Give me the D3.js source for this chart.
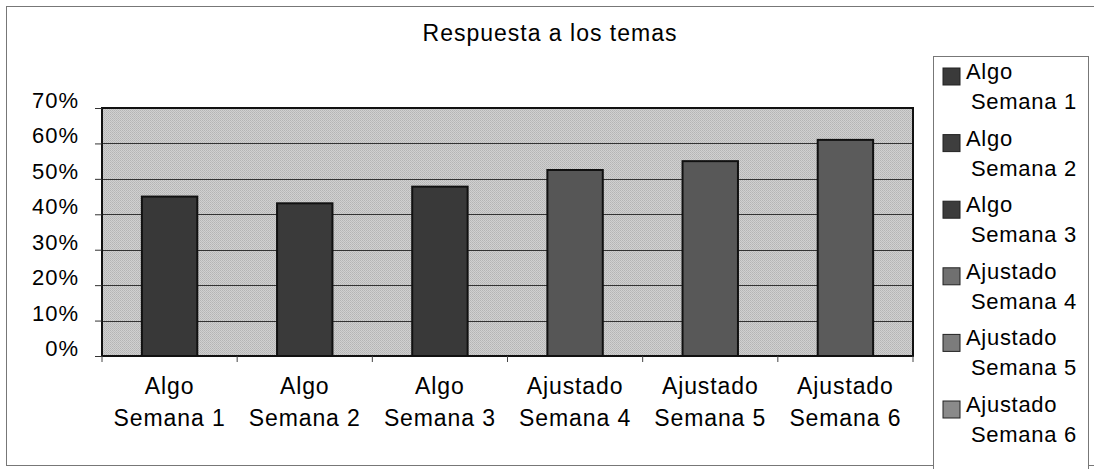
<!DOCTYPE html>
<html>
<head>
<meta charset="utf-8">
<script src="https://cdn.jsdelivr.net/npm/d3@7"></script>
<style>
  body { margin: 0; background: #fff; }
  text { font-family: "Liberation Sans", Arial, sans-serif; fill: #000; }
</style>
</head>
<body>
<div id="chart"></div>
<script>
// datos
const categories = ['Algo Semana 1', 'Algo Semana 2', 'Algo Semana 3',
                    'Ajustado Semana 4', 'Ajustado Semana 5', 'Ajustado Semana 6'];
const values = [45.0, 43.1, 47.8, 52.5, 55.0, 61.0];
const yTicks = [0, 10, 20, 30, 40, 50, 60, 70];
const title = 'Respuesta a los temas';

const W = 1094, H = 469;
const plot = { left: 102, right: 913, top: 108, bottom: 356 };

const svg = d3.select('#chart').append('svg')
    .attr('width', W)
    .attr('height', H);

// trama punteada del fondo
const defs = svg.append('defs');
const pat = defs.append('pattern')
    .attr('id', 'dots')
    .attr('width', 2).attr('height', 2)
    .attr('patternUnits', 'userSpaceOnUse');
pat.append('rect').attr('width', 2).attr('height', 2).attr('fill', '#d0d0d0');
pat.append('rect').attr('width', 1).attr('height', 1).attr('fill', '#b4b4b4');
pat.append('rect').attr('x', 1).attr('y', 1).attr('width', 1).attr('height', 1).attr('fill', '#bcbcbc');

// borde exterior
svg.append('rect')
    .attr('x', 6.5).attr('y', 6.5)
    .attr('width', 1200).attr('height', 459)
    .attr('fill', 'none')
    .attr('stroke', '#777')
    .attr('stroke-width', 1);

const x = d3.scaleBand()
    .domain(categories)
    .range([plot.left, plot.right])
    .paddingInner(0.59)
    .paddingOuter(0.295);

const y = d3.scaleLinear()
    .domain([0, 70])
    .range([plot.bottom, plot.top]);

const barColor = d3.scaleOrdinal()
    .domain(categories)
    .range(['#383838', '#3a3a3a', '#393939', '#565656', '#585858', '#5b5b5b']);
const swatchColor = d3.scaleOrdinal()
    .domain(categories)
    .range(['#3a3a3a', '#3e3e3e', '#3c3c3c', '#707070', '#7c7c7c', '#8a8a8a']);

// fondo del área de trazado
svg.append('rect')
    .attr('x', plot.left).attr('y', plot.top)
    .attr('width', plot.right - plot.left)
    .attr('height', plot.bottom - plot.top)
    .attr('fill', 'url(#dots)');

// líneas de división
svg.append('g')
    .selectAll('line')
    .data(yTicks.slice(1, -1))
    .join('line')
    .attr('x1', plot.left).attr('x2', plot.right)
    .attr('y1', d => Math.round(y(d)) + 0.5)
    .attr('y2', d => Math.round(y(d)) + 0.5)
    .attr('stroke', '#333')
    .attr('stroke-width', 1);

// barras
svg.append('g')
    .selectAll('rect')
    .data(values)
    .join('rect')
    .attr('x', (d, i) => x(categories[i]))
    .attr('y', d => y(d))
    .attr('width', x.bandwidth())
    .attr('height', d => y(0) - y(d))
    .attr('fill', (d, i) => barColor(categories[i]))
    .attr('stroke', '#111')
    .attr('stroke-width', 2);

// borde del área de trazado
svg.append('rect')
    .attr('x', plot.left).attr('y', plot.top)
    .attr('width', plot.right - plot.left)
    .attr('height', plot.bottom - plot.top)
    .attr('fill', 'none')
    .attr('stroke', '#111')
    .attr('stroke-width', 2);

// eje Y
const yAxis = svg.append('g')
    .attr('transform', `translate(${plot.left},0)`)
    .call(d3.axisLeft(y)
        .tickValues(yTicks)
        .tickSize(7)
        .tickPadding(16)
        .tickFormat(d => d + '%'));
yAxis.select('.domain').remove();
yAxis.selectAll('line').attr('stroke', '#333');
yAxis.selectAll('text')
    .attr('dy', '-0.02em')
    .style('font-size', '22px')
    .style('letter-spacing', '1px')
    .style('font-family', '"Liberation Sans", Arial, sans-serif')
    .attr('fill', '#000');

// eje X: marcas en los límites de las categorías
const bounds = categories.map((c, i) => x(c) - x.step() * x.paddingInner() / 2)
    .concat([plot.right]);
svg.append('g')
    .selectAll('line')
    .data(bounds)
    .join('line')
    .attr('x1', d => d).attr('x2', d => d)
    .attr('y1', plot.bottom).attr('y2', plot.bottom + 6)
    .attr('stroke', '#444');

// etiquetas de categorías en dos líneas
const xLabels = svg.append('g')
    .selectAll('text')
    .data(categories)
    .join('text')
    .attr('text-anchor', 'middle')
    .style('font-size', '23px')
    .style('letter-spacing', '0.9px');
xLabels.each(function(d) {
    const parts = d.split(' ');
    const cx = x(d) + x.bandwidth() / 2;
    const t = d3.select(this);
    t.append('tspan').attr('x', cx).attr('y', 394).text(parts[0]);
    t.append('tspan').attr('x', cx).attr('y', 426).text(parts.slice(1).join(' '));
});

// título
svg.append('text')
    .attr('x', 550)
    .attr('y', 41)
    .attr('text-anchor', 'middle')
    .style('font-size', '23px')
    .style('letter-spacing', '1px')
    .text(title);

// leyenda
const legend = svg.append('g');
legend.append('rect')
    .attr('x', 933.5).attr('y', 56.5)
    .attr('width', 155).attr('height', 430)
    .attr('fill', '#fff')
    .attr('stroke', '#777');

const item = legend.selectAll('g')
    .data(categories)
    .join('g')
    .attr('transform', (d, i) => `translate(0,${i * 66.6})`);
item.append('rect')
    .attr('x', 943).attr('y', 68)
    .attr('width', 17).attr('height', 17)
    .attr('fill', d => swatchColor(d))
    .attr('stroke', '#222')
    .attr('stroke-width', 1);
item.append('text')
    .style('font-size', '22px')
    .style('letter-spacing', '0.7px')
    .each(function(d) {
        const parts = d.split(' ');
        const t = d3.select(this);
        t.append('tspan').attr('x', 966).attr('y', 79).text(parts[0]);
        t.append('tspan').attr('x', 971).attr('y', 109).text(parts.slice(1).join(' '));
    });
</script>
</body>
</html>
